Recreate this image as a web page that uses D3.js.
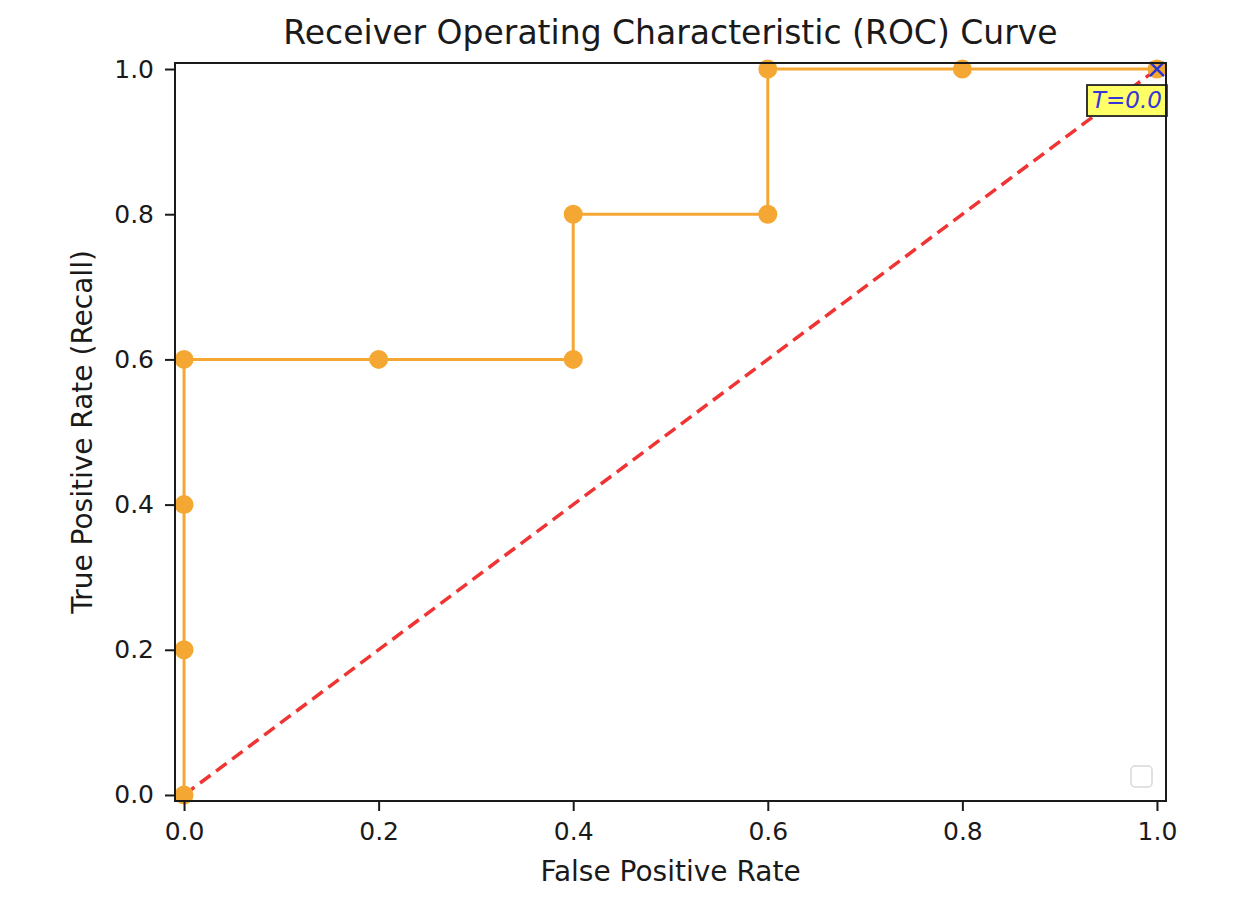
<!DOCTYPE html>
<html>
<head>
<meta charset="utf-8">
<script src="https://cdn.jsdelivr.net/npm/d3@7"></script>
<style>
  body { margin: 0; background: #fff; }
  text { font-family: "DejaVu Sans", sans-serif; fill: #1a1a1a; }
</style>
</head>
<body>
<svg id="chart" width="1256" height="922"></svg>
<script>
// ---- data ----
const fpr = [0.0, 0.0, 0.0, 0.0, 0.2, 0.4, 0.4, 0.6, 0.6, 0.8, 1.0];
const tpr = [0.0, 0.2, 0.4, 0.6, 0.6, 0.6, 0.8, 0.8, 1.0, 1.0, 1.0];
const diagX = [0, 1];
const diagY = [0, 1];
const xTicks = [0.0, 0.2, 0.4, 0.6, 0.8, 1.0];
const yTicks = [0.0, 0.2, 0.4, 0.6, 0.8, 1.0];
const annotationLabel = "T=0.0";
const annotationPoint = [1.0, 1.0];
const titleText = "Receiver Operating Characteristic (ROC) Curve";
const xLabelText = "False Positive Rate";
const yLabelText = "True Positive Rate (Recall)";

// ---- layout ----
const svg = d3.select("#chart");
const mLeft = 175, mRight = 1166, mTop = 63, mBottom = 801;

const x = d3.scaleLinear().domain([-0.0093, 1.0093]).range([mLeft, mRight]);
const y = d3.scaleLinear().domain([-0.0083, 1.0083]).range([mBottom, mTop]);

// diagonal
svg.append("path")
  .datum(diagX.map((d, i) => [d, diagY[i]]))
  .attr("d", d3.line().x(d => x(d[0])).y(d => y(d[1])))
  .attr("fill", "none")
  .attr("stroke", "#f03434")
  .attr("stroke-width", 3.5)
  .attr("stroke-dasharray", "13,7");

// ROC curve
const pts = fpr.map((d, i) => [d, tpr[i]]);
svg.append("path")
  .datum(pts)
  .attr("d", d3.line().x(d => x(d[0])).y(d => y(d[1])))
  .attr("fill", "none")
  .attr("stroke", "#f5a733")
  .attr("stroke-width", 3);

svg.selectAll("circle.pt").data(pts).enter().append("circle")
  .attr("class", "pt")
  .attr("cx", d => x(d[0])).attr("cy", d => y(d[1]))
  .attr("r", 9.5)
  .attr("fill", "#f5a733");

// blue x marker
const mx = x(annotationPoint[0]), my = y(annotationPoint[1]);
svg.append("path")
  .attr("d", `M${mx-7},${my-7}L${mx+7},${my+7}M${mx-7},${my+7}L${mx+7},${my-7}`)
  .attr("stroke", "#2a35d0").attr("stroke-width", 2.5).attr("fill", "none");

// annotation box
const ag = svg.append("g");
const at = ag.append("text")
  .attr("x", mx - 30).attr("y", my + 39)
  .attr("text-anchor", "middle")
  .attr("font-size", 23).attr("font-style", "italic")
  .style("fill", "#3535d8")
  .text(annotationLabel);
const bb = at.node().getBBox();
ag.insert("rect", "text")
  .attr("x", bb.x - 5).attr("y", bb.y - 2)
  .attr("width", bb.width + 10).attr("height", bb.height + 5)
  .attr("fill", "#ffff66").attr("stroke", "#222").attr("stroke-width", 1.8);

// axes
const xAxis = d3.axisBottom(x).tickValues(xTicks).tickFormat(d3.format(".1f")).tickSize(10).tickPadding(11);
const yAxis = d3.axisLeft(y).tickValues(yTicks).tickFormat(d3.format(".1f")).tickSize(10).tickPadding(11);

const gx = svg.append("g").attr("transform", `translate(0,${mBottom})`).call(xAxis);
const gy = svg.append("g").attr("transform", `translate(${mLeft},0)`).call(yAxis);
[gx, gy].forEach(g => {
  g.select(".domain").remove();
  g.selectAll(".tick line").attr("stroke", "#1a1a1a").attr("stroke-width", 2);
  g.selectAll(".tick text").attr("font-size", 25).attr("font-family", "DejaVu Sans").style("fill", "#1a1a1a");
});

// frame
svg.append("rect")
  .attr("x", mLeft).attr("y", mTop)
  .attr("width", mRight - mLeft).attr("height", mBottom - mTop)
  .attr("fill", "none").attr("stroke", "#1a1a1a").attr("stroke-width", 2);

// empty legend
svg.append("rect")
  .attr("x", 1131).attr("y", 766).attr("width", 21).attr("height", 21)
  .attr("rx", 4).attr("fill", "#fff").attr("stroke", "#d8d8d8").attr("stroke-width", 1.5);

// title & labels
svg.append("text").attr("x", (mLeft + mRight) / 2).attr("y", 44)
  .attr("text-anchor", "middle").attr("font-size", 33).text(titleText);
svg.append("text").attr("x", (mLeft + mRight) / 2).attr("y", 881)
  .attr("text-anchor", "middle").attr("font-size", 28).text(xLabelText);
svg.append("text").attr("transform", `translate(92,${(mTop + mBottom) / 2}) rotate(-90)`)
  .attr("text-anchor", "middle").attr("font-size", 28).text(yLabelText);
</script>
</body>
</html>
